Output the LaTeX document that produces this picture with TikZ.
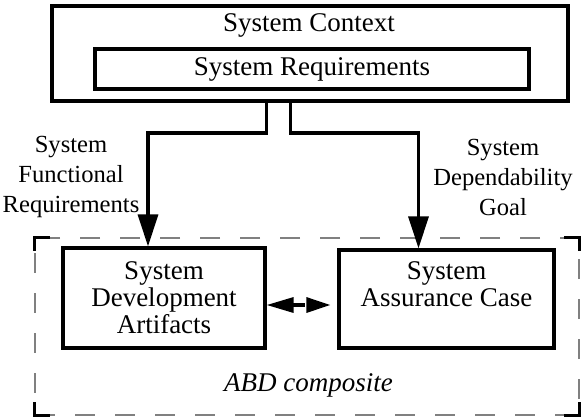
\documentclass[tikz,border=0pt]{standalone}
\usepackage{fontspec}
\setmainfont{Liberation Serif}
\usetikzlibrary{positioning}
\usetikzlibrary{arrows.meta}
\usetikzlibrary{calc}
\tikzstyle{block} = [draw, rectangle, line width=1.6pt, inner sep=0pt, align=center]
\tikzstyle{txt} = [align=center, inner sep=0pt]
\tikzstyle{lbl} = [align=center, inner sep=0pt, font=\fontsize{12.3}{15}\selectfont]
\tikzstyle{flow} = [line width=1.6pt, -{Triangle[length=16pt,width=10pt]}]
\tikzstyle{link} = [line width=1.6pt, dash pattern=on 6.3pt off 5pt, {Triangle[length=13.5pt,width=7.5pt]}-{Triangle[length=12pt,width=7.5pt]}, shorten >=3.5pt]
\tikzstyle{comp} = [draw=gray, line width=0.6pt, dash pattern=on 10pt off 10pt, rectangle, inner sep=0pt]
\tikzstyle{corner} = [line width=1.6pt, line cap=rect]

\begin{document}
\begin{tikzpicture}[x=0.5pt, y=-0.5pt, font=\fontsize{13.5}{13.5}\selectfont]
    \useasboundingbox (0,0) rectangle (581,418);

    % context and requirements
    \node[block, name=ctx, minimum width=258pt, minimum height=47.5pt] at (310,53.5) {};
    \node[txt, name=ctxtext] at (309,25) {System Context};
    \node[block, name=req, minimum width=217pt, minimum height=20pt] at (312,69) {System Requirements};

    % ABD composite
    \node[comp, name=abd, minimum width=272pt, minimum height=88.5pt] at (307,326.5) {};
    \foreach \c/\sx/\sy in {north west/1/-1, north east/-1/-1, south west/1/1, south east/-1/1}
        \draw[corner] ([yshift=\sy*6pt]abd.\c) -- (abd.\c) -- ([xshift=\sx*7pt]abd.\c);
    \node[txt, name=abdtext, font=\fontsize{13.5}{13.5}\selectfont\itshape] at (308.5,385) {ABD composite};

    \node[block, name=dev, minimum width=101pt, minimum height=50pt] at (164,298) {System\\Development\\Artifacts};
    \node[block, name=sac, minimum width=107.5pt, minimum height=49pt] at (446.5,299) {};
    \node[txt, name=sactext] at (446.5,284) {System\\Assurance Case};

    % labels
    \node[lbl, name=funclbl] at (71,177) {System\\Functional\\Requirements};
    \node[lbl, name=deplbl] at (503,177) {System\\Dependability\\Goal};

    % connectors
    \coordinate (lsplit) at (266.7,133);
    \coordinate (rsplit) at (290.8,133);
    \draw[flow] (lsplit |- ctx.south) -- (lsplit) -| ([xshift=-8pt]dev.north);
    \draw[flow] (rsplit |- ctx.south) -- (rsplit) -| ([xshift=-14pt]sac.north);
    \coordinate (lk) at ([yshift=-3.5pt]dev.east);
    \draw[link] (lk) -- (lk -| sac.west);
\end{tikzpicture}
\end{document}
